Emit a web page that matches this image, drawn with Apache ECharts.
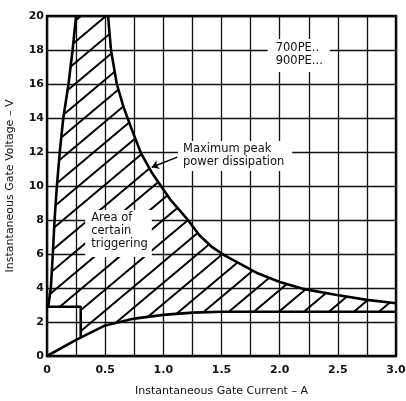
<!DOCTYPE html>
<html><head><meta charset="utf-8">
<script src="https://cdn.jsdelivr.net/npm/echarts@6/dist/echarts.min.js"></script>
<style>html,body{margin:0;padding:0;background:#fff}#c{width:406px;height:401px}</style>
</head><body><div id="c"></div>
<script>
// ---- data (gate current A, gate voltage V) ----
const xTickLabels = ['0', '0.5', '1.0', '1.5', '2.0', '2.5', '3.0'];
const yTickLabels = ['0','2','4','6','8','10','12','14','16','18','20'];
const leftBoundary = [[0.25,20],[0.22,18],[0.185,16],[0.14,14],[0.11,12],[0.085,10],[0.065,8],[0.05,6],[0.033,4],[0.01,2.9]];
const powerCurve = [[0.525,20],[0.55,18],[0.6,16],[0.66,14.6],[0.73,13.3],[0.81,11.9],[0.9,10.8],[1.0,9.8],[1.06,9.2],[1.2,8.1],[1.31,7.1],[1.42,6.4],[1.53,5.9],[1.8,4.9],[2.0,4.35],[2.2,3.95],[2.48,3.6],[2.75,3.3],[3.0,3.1]];
const lowerBoundary = [[0,0],[0.25,0.95],[0.5,1.8],[0.75,2.2],[1.0,2.42],[1.25,2.55],[1.5,2.6],[2.0,2.6],[3.0,2.6]];
const minTrigger = [[0,2.9],[0.29,2.9],[0.29,1.1]];
const arrowLine = [[1.12,11.7],[0.9,11.1]];
const notes = [
  {text:'700PE..\n900PE...', at:[1.966,18.47]},
  {text:'Maximum peak\npower dissipation', at:[1.169,12.53]},
  {text:'Area of\ncertain\ntriggering', at:[0.38,8.47]}
];

// hatched region built from the boundary curves
const region = [minTrigger[2]]
  .concat(lowerBoundary.filter(p => p[0] > minTrigger[2][0]))
  .concat(powerCurve.slice().reverse())
  .concat(leftBoundary)
  .concat([minTrigger[1]]);

// hatch pattern tile
const W = 25, H = 21;
const tile = document.createElement('canvas');
tile.width = W; tile.height = H;
const g = tile.getContext('2d');
g.strokeStyle = '#000'; g.lineWidth = 2;
for (let n = -1; n <= 1; n++) {
  g.beginPath();
  g.moveTo(-W, H * (2 + n));
  g.lineTo(2 * W, H * (n - 1));
  g.stroke();
}
const hatch = {image: tile, repeat: 'repeat'};

const chart = echarts.init(document.getElementById('c'), null, {renderer: 'canvas'});
const FONT = 'DejaVu Sans';
const lineStyle = {color: '#000', width: 2.6};

chart.setOption({
  animation: false,
  backgroundColor: '#fff',
  grid: {left: 47, right: 10, top: 16, bottom: 45, show: true, borderColor: '#000', borderWidth: 2.4, outerBoundsMode: 'none'},
  xAxis: {
    type: 'value', min: 0, max: 3, interval: 0.5,
    name: 'Instantaneous Gate Current – A', nameLocation: 'middle', nameGap: 30,
    nameTextStyle: {fontFamily: FONT, fontSize: 11, color: '#111'},
    axisLine: {show: false}, axisTick: {show: false},
    axisLabel: {margin: 9, fontFamily: FONT, fontSize: 11, fontWeight: 'bold', color: '#111',
      formatter: v => xTickLabels[Math.round(v / 0.5)]},
    splitLine: {show: true, lineStyle: {color: '#111', width: 1.3}},
    minorTick: {show: false, splitNumber: 2},
    minorSplitLine: {show: true, lineStyle: {color: '#111', width: 1.3}}
  },
  yAxis: {
    type: 'value', min: 0, max: 20, interval: 2,
    name: 'Instantaneous Gate Voltage – V', nameLocation: 'middle', nameGap: 31,
    nameTextStyle: {fontFamily: FONT, fontSize: 11, color: '#111'},
    axisLine: {show: false}, axisTick: {show: false},
    axisLabel: {margin: 3, fontFamily: FONT, fontSize: 11, fontWeight: 'bold', color: '#111',
      formatter: v => yTickLabels[Math.round(v / 2)]},
    splitLine: {show: true, lineStyle: {color: '#111', width: 1.3}}
  },
  series: [
    {type: 'custom', silent: true, z: 1, data: [[0, 0]],
      renderItem: (params, api) => ({
        type: 'polygon',
        shape: {points: region.map(p => api.coord(p))},
        style: {fill: hatch, stroke: null}
      })},
    {type: 'line', data: leftBoundary, showSymbol: false, lineStyle, z: 3},
    {type: 'line', data: powerCurve, showSymbol: false, lineStyle, z: 3,
      markLine: {silent: true, symbol: ['none', 'arrow'], symbolSize: 7,
        lineStyle: {color: '#000', width: 1.5, type: 'solid'}, label: {show: false},
        data: [[{coord: arrowLine[0]}, {coord: arrowLine[1]}]]}},
    {type: 'line', data: lowerBoundary, showSymbol: false, lineStyle, z: 3},
    {type: 'line', data: minTrigger, showSymbol: false, lineStyle, z: 3}
  ]
});

// padding: [top, right, bottom, left]
const pads = [[3,7,4,8],[2,8,2,5],[2,4,6,6]];
chart.setOption({
  graphic: notes.map((n, i) => {
    const p = chart.convertToPixel({gridIndex: 0}, n.at);
    return {type: 'text', x: p[0] - pads[i][3], y: p[1] - pads[i][0], z: 10,
      style: {text: n.text, font: '11.5px "' + FONT + '"', fill: '#111', lineHeight: 13,
        align: 'left', verticalAlign: 'top', backgroundColor: '#fff', padding: pads[i]}};
  })
});
</script></body></html>
